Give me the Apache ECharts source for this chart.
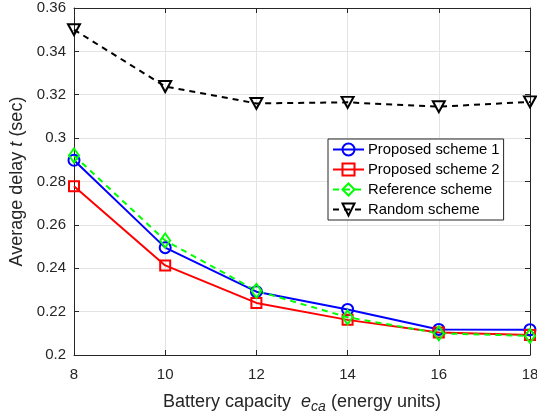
<!DOCTYPE html>
<html><head><meta charset="utf-8">
<script src="https://cdn.jsdelivr.net/npm/echarts@6/dist/echarts.min.js"></script>
<style>html,body{margin:0;padding:0;background:#fff}#c{width:537px;height:417px}</style>
</head><body><div id="c"></div>
<script>
const categories = [8, 10, 12, 14, 16, 18];
const proposed1 = [0.2898, 0.2495, 0.2292, 0.2210, 0.2118, 0.2117];
const proposed2 = [0.2778, 0.2413, 0.2240, 0.2162, 0.2104, 0.2092];
const reference = [0.2920, 0.2528, 0.2296, 0.2174, 0.2100, 0.2088];
const randomS  = [0.3500, 0.3238, 0.3160, 0.3165, 0.3145, 0.3167];
const seriesNames = ['Proposed scheme 1','Proposed scheme 2','Reference scheme','Random scheme'];

const font = 'Liberation Sans, Arial, Helvetica, sans-serif';
const txt = '#262626';
function mk(name, vals, color, symbol, size, dash, rot) {
  return {
    name, type: 'line', data: categories.map((x,i)=>[x, vals[i]]),
    symbol, symbolSize: size, symbolRotate: rot || 0,
    lineStyle: {color, width: 2, type: dash ? [6,5] : 'solid'},
    itemStyle: {color: 'rgba(255,255,255,0)', borderColor: color, borderWidth: 2},
    emphasis: {disabled: true}, animation: false, z: 3
  };
}
const chart = echarts.init(document.getElementById('c'));
const axisLine = {show: true, lineStyle: {color: txt, width: 1}};
chart.setOption({
  animation: false,
  grid: {left: 74, right: 7, top: 8, bottom: 62, containLabel: false, outerBoundsMode: 'none'},
  legend: {
    orient: 'vertical', left: 328, top: 139,
    backgroundColor: '#fff', borderColor: txt, borderWidth: 1,
    padding: [3, 4, 3, 4], itemGap: 5, itemWidth: 31, itemHeight: 15,
    textStyle: {fontFamily: font, fontSize: 14.8, color: '#000', padding: [0,0,0,-1]},
    data: seriesNames
  },
  xAxis: [{
    type: 'value', min: 8, max: 18, interval: 2,
    axisLine, axisTick: {inside: true, length: 5, lineStyle: {color: txt}},
    axisLabel: {fontFamily: font, fontSize: 15, color: txt, margin: 12},
    splitLine: {show: true, lineStyle: {color: '#e3e3e3', width: 1}},
    name: '{a|Battery capacity  }{i|e}{s|ca}{a| (energy units)}',
    nameLocation: 'middle', nameGap: 35,
    nameTextStyle: {rich: {
      a: {fontFamily: font, fontSize: 18, color: txt},
      i: {fontFamily: font, fontSize: 18, color: txt, fontStyle: 'italic'},
      s: {fontFamily: font, fontSize: 14, color: txt, fontStyle: 'italic', padding: [10,0,0,0]}
    }}
  }, {
    type: 'value', min: 8, max: 18, interval: 2, position: 'top',
    axisLine, axisTick: {inside: true, length: 5, lineStyle: {color: txt}},
    axisLabel: {show: false}, splitLine: {show: false}
  }],
  yAxis: [{
    type: 'value', min: 0.2, max: 0.36, interval: 0.02,
    axisLine, axisTick: {inside: true, length: 5, lineStyle: {color: txt}},
    axisLabel: {fontFamily: font, fontSize: 15, color: txt, margin: 8,
      formatter: v => String(parseFloat(v.toFixed(2)))},
    splitLine: {show: true, lineStyle: {color: '#e3e3e3', width: 1}},
    name: '{a|Average delay }{i|t}{a| (sec)}',
    nameLocation: 'middle', nameGap: 42, nameRotate: 90,
    nameTextStyle: {rich: {
      a: {fontFamily: font, fontSize: 18, color: txt},
      i: {fontFamily: font, fontSize: 18, color: txt, fontStyle: 'italic'}
    }}
  }, {
    type: 'value', min: 0.2, max: 0.36, interval: 0.02, position: 'right',
    axisLine, axisTick: {inside: true, length: 5, lineStyle: {color: txt}},
    axisLabel: {show: false}, splitLine: {show: false}
  }],
  series: [
    mk(seriesNames[0], proposed1, '#0000ff', 'circle', 11, false),
    mk(seriesNames[1], proposed2, '#ff0000', 'rect', 10, false),
    mk(seriesNames[2], reference, '#00ff00', 'diamond', [10, 14], true),
    mk(seriesNames[3], randomS, '#000000', 'triangle', [12, 11], true, 180)
  ]
});
</script></body></html>
